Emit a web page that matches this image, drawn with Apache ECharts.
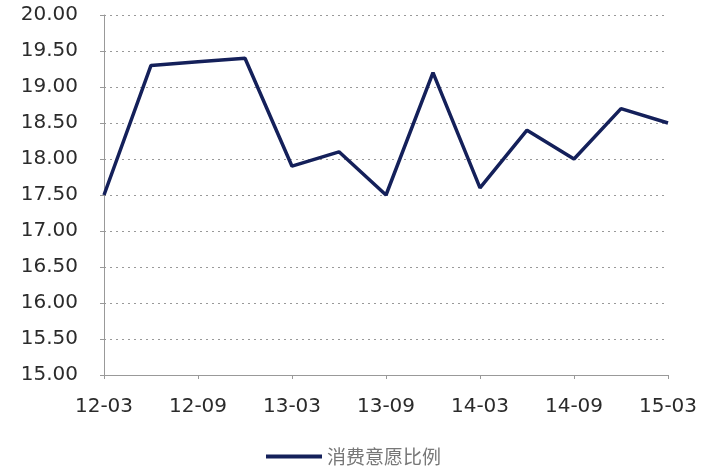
<!DOCTYPE html>
<html>
<head>
<meta charset="utf-8">
<script src="https://cdn.jsdelivr.net/npm/echarts@6/dist/echarts.min.js"></script>
<style>
  html, body { margin: 0; padding: 0; background: #fff; }
  #chart { width: 707px; height: 473px; }
</style>
</head>
<body>
<div id="chart"></div>
<script>
  // 季度
  var categories = ['12-03', '12-06', '12-09', '12-12', '13-03', '13-06', '13-09',
    '13-12', '14-03', '14-06', '14-09', '14-12', '15-03'];
  var seriesName = '消费意愿比例';
  var ratioData = [17.5, 19.3, 19.35, 19.4, 17.9, 18.1, 17.5, 19.2, 17.6, 18.4, 18.0, 18.7, 18.5];

  var chart = echarts.init(document.getElementById('chart'));
  var option = {
    animation: false,
    grid: {
      left: 104,
      right: 39,
      top: 15,
      bottom: 98
    },
    legend: {
      data: [seriesName],
      bottom: 2,
      left: 'center',
      itemWidth: 56,
      itemHeight: 4,
      itemGap: 6,
      icon: 'rect',
      textStyle: {
        fontFamily: 'Noto Sans CJK SC',
        fontSize: 19,
        color: '#777'
      }
    },
    xAxis: {
      type: 'category',
      boundaryGap: false,
      data: categories,
      axisLine: { lineStyle: { color: '#999', width: 1 } },
      axisTick: { alignWithLabel: true, interval: 1, length: 4, lineStyle: { color: '#999' } },
      axisLabel: {
        interval: 1,
        margin: 22,
        fontFamily: 'DejaVu Sans',
        fontSize: 20,
        color: '#2b2b2b'
      },
      splitLine: { show: false }
    },
    yAxis: {
      type: 'value',
      min: 15,
      max: 20,
      interval: 0.5,
      axisLine: { show: true, lineStyle: { color: '#999' } },
      axisTick: { show: true, length: 4, lineStyle: { color: '#999' } },
      axisLabel: {
        margin: 26,
        fontFamily: 'DejaVu Sans',
        fontSize: 20,
        color: '#2b2b2b',
        formatter: function (v) { return v.toFixed(2); }
      },
      splitLine: { lineStyle: { color: '#999', type: [2, 4], width: 1 } }
    },
    series: [{
      name: seriesName,
      type: 'line',
      data: ratioData,
      symbol: 'none',
      lineStyle: { color: '#14205a', width: 3.5 },
      itemStyle: { color: '#14205a' }
    }]
  };
  chart.setOption(option);
</script>
</body>
</html>
